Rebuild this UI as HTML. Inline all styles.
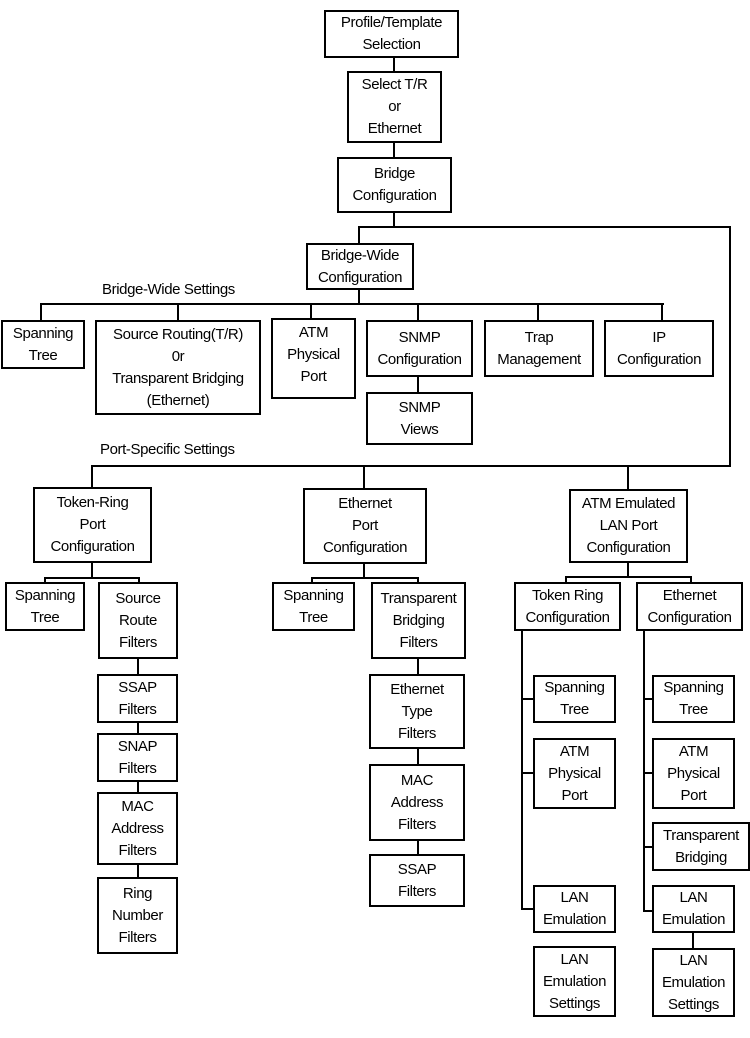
<!DOCTYPE html>
<html><head><meta charset="utf-8"><style>
body{margin:0;width:750px;height:1038px;background:#fff;position:relative;overflow:hidden;font-family:"Liberation Sans",Arial,sans-serif;}
.b{position:absolute;border:2px solid #000;box-sizing:border-box;display:flex;align-items:center;justify-content:center;text-align:center;font-size:15px;line-height:22px;letter-spacing:-0.4px;color:#000;white-space:nowrap;background:#fff;}
.h{position:absolute;height:2px;background:#000;}
.v{position:absolute;width:2px;background:#000;}
.t{position:absolute;font-size:15px;letter-spacing:-0.4px;white-space:nowrap;}
</style></head><body>
<!-- connectors -->
<div class="v" style="left:393px;top:57px;height:16px"></div>
<div class="v" style="left:393px;top:142px;height:16px"></div>
<div class="v" style="left:393px;top:212px;height:16px"></div>
<div class="h" style="left:358px;top:226px;width:373px"></div>
<div class="v" style="left:729px;top:226px;height:241px"></div>
<div class="v" style="left:358px;top:226px;height:19px"></div>
<div class="v" style="left:358px;top:289px;height:16px"></div>
<div class="h" style="left:40px;top:303px;width:624px"></div>
<div class="v" style="left:40px;top:303px;height:18px"></div>
<div class="v" style="left:177px;top:303px;height:18px"></div>
<div class="v" style="left:310px;top:303px;height:16px"></div>
<div class="v" style="left:417px;top:303px;height:18px"></div>
<div class="v" style="left:537px;top:303px;height:18px"></div>
<div class="v" style="left:661px;top:303px;height:18px"></div>
<div class="v" style="left:417px;top:376px;height:17px"></div>
<div class="h" style="left:91px;top:465px;width:640px"></div>
<div class="v" style="left:91px;top:465px;height:23px"></div>
<div class="v" style="left:363px;top:465px;height:24px"></div>
<div class="v" style="left:627px;top:465px;height:25px"></div>
<!-- TR port -->
<div class="v" style="left:91px;top:562px;height:16px"></div>
<div class="h" style="left:44px;top:577px;width:96px"></div>
<div class="v" style="left:44px;top:577px;height:6px"></div>
<div class="v" style="left:138px;top:577px;height:6px"></div>
<div class="v" style="left:137px;top:658px;height:230px"></div>
<!-- Eth port -->
<div class="v" style="left:363px;top:563px;height:15px"></div>
<div class="h" style="left:311px;top:577px;width:108px"></div>
<div class="v" style="left:311px;top:577px;height:6px"></div>
<div class="v" style="left:417px;top:577px;height:6px"></div>
<div class="v" style="left:417px;top:658px;height:200px"></div>
<!-- ATM -->
<div class="v" style="left:627px;top:562px;height:16px"></div>
<div class="h" style="left:565px;top:576px;width:127px"></div>
<div class="v" style="left:565px;top:576px;height:7px"></div>
<div class="v" style="left:690px;top:576px;height:7px"></div>
<div class="v" style="left:521px;top:630px;height:280px"></div>
<div class="h" style="left:521px;top:698px;width:13px"></div>
<div class="h" style="left:521px;top:772px;width:13px"></div>
<div class="h" style="left:521px;top:908px;width:13px"></div>
<div class="v" style="left:643px;top:630px;height:282px"></div>
<div class="h" style="left:643px;top:698px;width:10px"></div>
<div class="h" style="left:643px;top:772px;width:10px"></div>
<div class="h" style="left:643px;top:846px;width:10px"></div>
<div class="h" style="left:643px;top:910px;width:10px"></div>
<div class="v" style="left:692px;top:932px;height:17px"></div>
<!-- labels -->
<div class="t" style="left:102px;top:281px">Bridge-Wide Settings</div>
<div class="t" style="left:100px;top:441px">Port-Specific Settings</div>
<!-- boxes -->
<div class="b" style="left:324px;top:10px;width:135px;height:48px">Profile/Template<br>Selection</div>
<div class="b" style="left:347px;top:71px;width:95px;height:72px">Select T/R<br>or<br>Ethernet</div>
<div class="b" style="left:337px;top:157px;width:115px;height:56px">Bridge<br>Configuration</div>
<div class="b" style="left:306px;top:243px;width:108px;height:47px">Bridge-Wide<br>Configuration</div>
<div class="b" style="left:1px;top:320px;width:84px;height:49px">Spanning<br>Tree</div>
<div class="b" style="left:95px;top:320px;width:166px;height:95px">Source Routing(T/R)<br>0r<br>Transparent Bridging<br>(Ethernet)</div>
<div class="b" style="left:271px;top:318px;width:85px;height:81px;align-items:flex-start;padding-top:2px">ATM<br>Physical<br>Port</div>
<div class="b" style="left:366px;top:320px;width:107px;height:57px">SNMP<br>Configuration</div>
<div class="b" style="left:366px;top:392px;width:107px;height:53px">SNMP<br>Views</div>
<div class="b" style="left:484px;top:320px;width:110px;height:57px">Trap<br>Management</div>
<div class="b" style="left:604px;top:320px;width:110px;height:57px">IP<br>Configuration</div>
<div class="b" style="left:33px;top:487px;width:119px;height:76px">Token-Ring<br>Port<br>Configuration</div>
<div class="b" style="left:303px;top:488px;width:124px;height:76px">Ethernet<br>Port<br>Configuration</div>
<div class="b" style="left:569px;top:489px;width:119px;height:74px">ATM Emulated<br>LAN Port<br>Configuration</div>
<div class="b" style="left:5px;top:582px;width:80px;height:49px">Spanning<br>Tree</div>
<div class="b" style="left:98px;top:582px;width:80px;height:77px">Source<br>Route<br>Filters</div>
<div class="b" style="left:97px;top:674px;width:81px;height:49px">SSAP<br>Filters</div>
<div class="b" style="left:97px;top:733px;width:81px;height:49px">SNAP<br>Filters</div>
<div class="b" style="left:97px;top:792px;width:81px;height:73px">MAC<br>Address<br>Filters</div>
<div class="b" style="left:97px;top:877px;width:81px;height:77px">Ring<br>Number<br>Filters</div>
<div class="b" style="left:272px;top:582px;width:83px;height:49px">Spanning<br>Tree</div>
<div class="b" style="left:371px;top:582px;width:95px;height:77px">Transparent<br>Bridging<br>Filters</div>
<div class="b" style="left:369px;top:674px;width:96px;height:75px">Ethernet<br>Type<br>Filters</div>
<div class="b" style="left:369px;top:764px;width:96px;height:77px">MAC<br>Address<br>Filters</div>
<div class="b" style="left:369px;top:854px;width:96px;height:53px">SSAP<br>Filters</div>
<div class="b" style="left:514px;top:582px;width:107px;height:49px">Token Ring<br>Configuration</div>
<div class="b" style="left:636px;top:582px;width:107px;height:49px">Ethernet<br>Configuration</div>
<div class="b" style="left:533px;top:675px;width:83px;height:48px">Spanning<br>Tree</div>
<div class="b" style="left:533px;top:738px;width:83px;height:71px">ATM<br>Physical<br>Port</div>
<div class="b" style="left:533px;top:885px;width:83px;height:48px">LAN<br>Emulation</div>
<div class="b" style="left:533px;top:946px;width:83px;height:71px">LAN<br>Emulation<br>Settings</div>
<div class="b" style="left:652px;top:675px;width:83px;height:48px">Spanning<br>Tree</div>
<div class="b" style="left:652px;top:738px;width:83px;height:71px">ATM<br>Physical<br>Port</div>
<div class="b" style="left:652px;top:822px;width:98px;height:49px">Transparent<br>Bridging</div>
<div class="b" style="left:652px;top:885px;width:83px;height:48px">LAN<br>Emulation</div>
<div class="b" style="left:652px;top:948px;width:83px;height:69px">LAN<br>Emulation<br>Settings</div>
</body></html>
